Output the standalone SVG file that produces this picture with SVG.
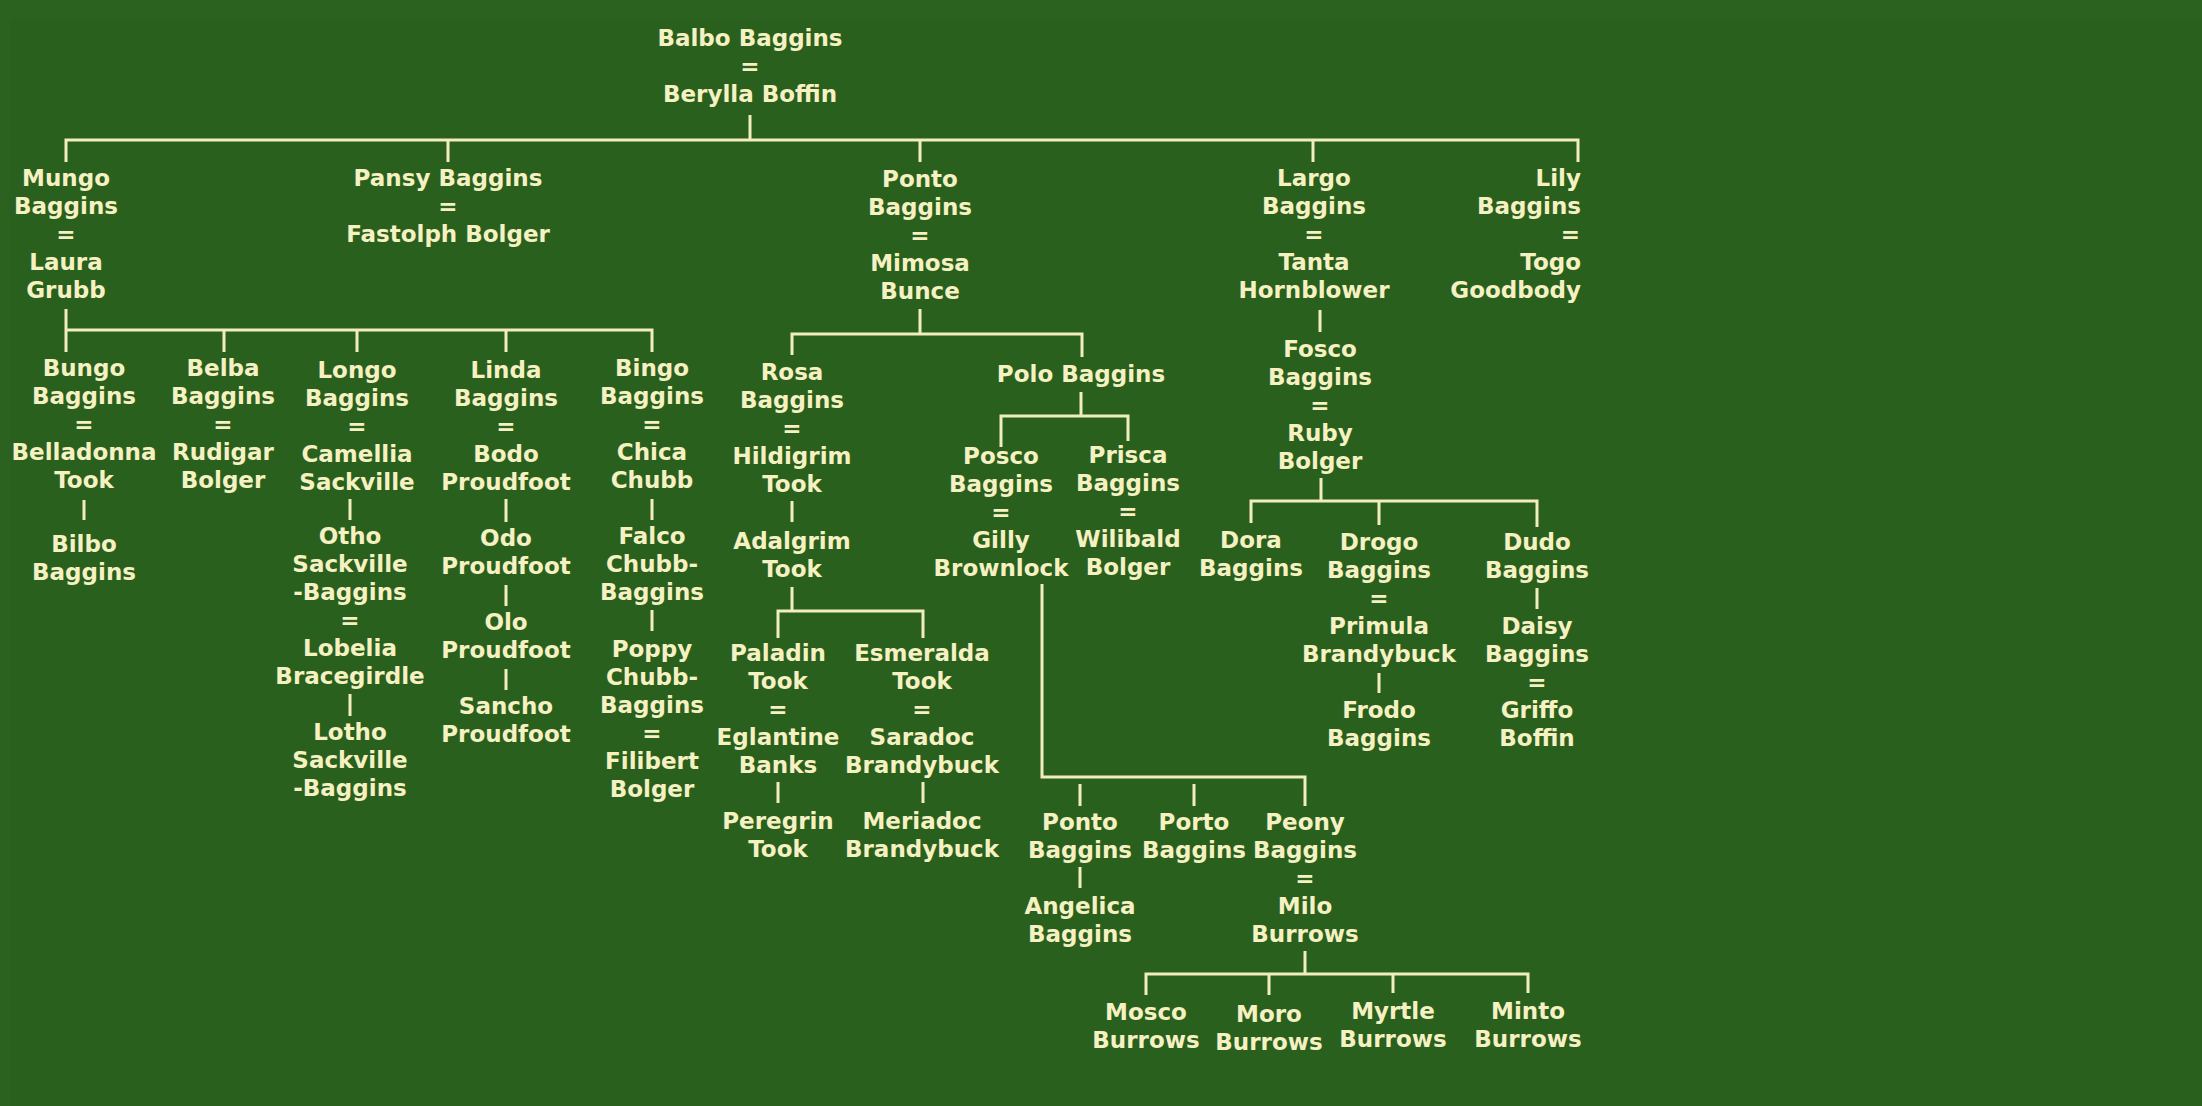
<svg xmlns="http://www.w3.org/2000/svg" width="2202" height="1106" viewBox="0 0 2202 1106">
<style>
.bg{fill:#2a601d}
.band{fill:#2b621f}
.t{font-family:"DejaVu Sans",Verdana,sans-serif;font-weight:bold;font-size:23px;fill:#f6f1c3;text-anchor:middle}
.r{text-anchor:end}
.c{stroke:#f1edbd;stroke-width:3;fill:none;stroke-linejoin:miter}
</style>
<rect class="bg" x="0" y="0" width="2202" height="1106"/>
<rect class="band" x="0" y="0" width="2202" height="20"/>
<rect class="band" x="0" y="0" width="10" height="1106"/>
<g id="connectors" class="c">
<path d="M750 115V140M66 162V140H1578V162M448 140V162M920 140V162M1313 140V162"/>
<path d="M66 309V352M66 330H652V352M224 330V352M357 330V352M506 330V352"/>
<path d="M84 500V520"/>
<path d="M350 499V520M350 694V716"/>
<path d="M506 499V522M506 585V606M506 669V690"/>
<path d="M652 499V520M652 610V631"/>
<path d="M920 309V334M792 355V334H1082V357"/>
<path d="M792 501V522M792 587V611M778 638V611H923V638"/>
<path d="M778 782V803M923 782V803"/>
<path d="M1081 392V416M1001 447V416H1128V441"/>
<path d="M1042 584V777H1305V806M1080 784V806M1194 784V806"/>
<path d="M1080 867V888"/>
<path d="M1305 951V974M1146 995V974H1528V993M1269 974V995M1393 974V993"/>
<path d="M1320 310V332M1321 478V501M1251 523V501H1537V527M1379 501V525"/>
<path d="M1379 673V693M1537 588V609"/>
</g>
<g id="n-balbo" class="t"><text x="750" y="46">Balbo Baggins</text><text x="750" y="74">=</text><text x="750" y="102">Berylla Boffin</text></g>
<g id="n-mungo" class="t"><text x="66" y="186">Mungo</text><text x="66" y="214">Baggins</text><text x="66" y="242">=</text><text x="66" y="270">Laura</text><text x="66" y="298">Grubb</text></g>
<g id="n-pansy" class="t"><text x="448" y="186">Pansy Baggins</text><text x="448" y="214">=</text><text x="448" y="242">Fastolph Bolger</text></g>
<g id="n-ponto" class="t"><text x="920" y="187">Ponto</text><text x="920" y="215">Baggins</text><text x="920" y="243">=</text><text x="920" y="271">Mimosa</text><text x="920" y="299">Bunce</text></g>
<g id="n-largo" class="t"><text x="1314" y="186">Largo</text><text x="1314" y="214">Baggins</text><text x="1314" y="242">=</text><text x="1314" y="270">Tanta</text><text x="1314" y="298">Hornblower</text></g>
<g id="n-lily" class="t r"><text x="1581" y="186">Lily</text><text x="1581" y="214">Baggins</text><text x="1580" y="242">=</text><text x="1581" y="270">Togo</text><text x="1581" y="298">Goodbody</text></g>
<g id="n-bungo" class="t"><text x="84" y="376">Bungo</text><text x="84" y="404">Baggins</text><text x="84" y="432">=</text><text x="84" y="460">Belladonna</text><text x="84" y="488">Took</text></g>
<g id="n-bilbo" class="t"><text x="84" y="552">Bilbo</text><text x="84" y="580">Baggins</text></g>
<g id="n-belba" class="t"><text x="223" y="376">Belba</text><text x="223" y="404">Baggins</text><text x="223" y="432">=</text><text x="223" y="460">Rudigar</text><text x="223" y="488">Bolger</text></g>
<g id="n-longo" class="t"><text x="357" y="378">Longo</text><text x="357" y="406">Baggins</text><text x="357" y="434">=</text><text x="357" y="462">Camellia</text><text x="357" y="490">Sackville</text></g>
<g id="n-otho" class="t"><text x="350" y="544">Otho</text><text x="350" y="572">Sackville</text><text x="350" y="600">-Baggins</text><text x="350" y="628">=</text><text x="350" y="656">Lobelia</text><text x="350" y="684">Bracegirdle</text></g>
<g id="n-lotho" class="t"><text x="350" y="740">Lotho</text><text x="350" y="768">Sackville</text><text x="350" y="796">-Baggins</text></g>
<g id="n-linda" class="t"><text x="506" y="378">Linda</text><text x="506" y="406">Baggins</text><text x="506" y="434">=</text><text x="506" y="462">Bodo</text><text x="506" y="490">Proudfoot</text></g>
<g id="n-odo" class="t"><text x="506" y="546">Odo</text><text x="506" y="574">Proudfoot</text></g>
<g id="n-olo" class="t"><text x="506" y="630">Olo</text><text x="506" y="658">Proudfoot</text></g>
<g id="n-sancho" class="t"><text x="506" y="714">Sancho</text><text x="506" y="742">Proudfoot</text></g>
<g id="n-bingo" class="t"><text x="652" y="376">Bingo</text><text x="652" y="404">Baggins</text><text x="652" y="432">=</text><text x="652" y="460">Chica</text><text x="652" y="488">Chubb</text></g>
<g id="n-falco" class="t"><text x="652" y="544">Falco</text><text x="652" y="572">Chubb-</text><text x="652" y="600">Baggins</text></g>
<g id="n-poppy" class="t"><text x="652" y="657">Poppy</text><text x="652" y="685">Chubb-</text><text x="652" y="713">Baggins</text><text x="652" y="741">=</text><text x="652" y="769">Filibert</text><text x="652" y="797">Bolger</text></g>
<g id="n-rosa" class="t"><text x="792" y="380">Rosa</text><text x="792" y="408">Baggins</text><text x="792" y="436">=</text><text x="792" y="464">Hildigrim</text><text x="792" y="492">Took</text></g>
<g id="n-adalgrim" class="t"><text x="792" y="549">Adalgrim</text><text x="792" y="577">Took</text></g>
<g id="n-paladin" class="t"><text x="778" y="661">Paladin</text><text x="778" y="689">Took</text><text x="778" y="717">=</text><text x="778" y="745">Eglantine</text><text x="778" y="773">Banks</text></g>
<g id="n-peregrin" class="t"><text x="778" y="829">Peregrin</text><text x="778" y="857">Took</text></g>
<g id="n-esmeralda" class="t"><text x="922" y="661">Esmeralda</text><text x="922" y="689">Took</text><text x="922" y="717">=</text><text x="922" y="745">Saradoc</text><text x="922" y="773">Brandybuck</text></g>
<g id="n-meriadoc" class="t"><text x="922" y="829">Meriadoc</text><text x="922" y="857">Brandybuck</text></g>
<g id="n-polo" class="t"><text x="1081" y="382">Polo Baggins</text></g>
<g id="n-posco" class="t"><text x="1001" y="464">Posco</text><text x="1001" y="492">Baggins</text><text x="1001" y="520">=</text><text x="1001" y="548">Gilly</text><text x="1001" y="576">Brownlock</text></g>
<g id="n-prisca" class="t"><text x="1128" y="463">Prisca</text><text x="1128" y="491">Baggins</text><text x="1128" y="519">=</text><text x="1128" y="547">Wilibald</text><text x="1128" y="575">Bolger</text></g>
<g id="n-ponto2" class="t"><text x="1080" y="830">Ponto</text><text x="1080" y="858">Baggins</text></g>
<g id="n-angelica" class="t"><text x="1080" y="914">Angelica</text><text x="1080" y="942">Baggins</text></g>
<g id="n-porto" class="t"><text x="1194" y="830">Porto</text><text x="1194" y="858">Baggins</text></g>
<g id="n-peony" class="t"><text x="1305" y="830">Peony</text><text x="1305" y="858">Baggins</text><text x="1305" y="886">=</text><text x="1305" y="914">Milo</text><text x="1305" y="942">Burrows</text></g>
<g id="n-mosco" class="t"><text x="1146" y="1020">Mosco</text><text x="1146" y="1048">Burrows</text></g>
<g id="n-moro" class="t"><text x="1269" y="1022">Moro</text><text x="1269" y="1050">Burrows</text></g>
<g id="n-myrtle" class="t"><text x="1393" y="1019">Myrtle</text><text x="1393" y="1047">Burrows</text></g>
<g id="n-minto" class="t"><text x="1528" y="1019">Minto</text><text x="1528" y="1047">Burrows</text></g>
<g id="n-fosco" class="t"><text x="1320" y="357">Fosco</text><text x="1320" y="385">Baggins</text><text x="1320" y="413">=</text><text x="1320" y="441">Ruby</text><text x="1320" y="469">Bolger</text></g>
<g id="n-dora" class="t"><text x="1251" y="548">Dora</text><text x="1251" y="576">Baggins</text></g>
<g id="n-drogo" class="t"><text x="1379" y="550">Drogo</text><text x="1379" y="578">Baggins</text><text x="1379" y="606">=</text><text x="1379" y="634">Primula</text><text x="1379" y="662">Brandybuck</text></g>
<g id="n-frodo" class="t"><text x="1379" y="718">Frodo</text><text x="1379" y="746">Baggins</text></g>
<g id="n-dudo" class="t"><text x="1537" y="550">Dudo</text><text x="1537" y="578">Baggins</text></g>
<g id="n-daisy" class="t"><text x="1537" y="634">Daisy</text><text x="1537" y="662">Baggins</text><text x="1537" y="690">=</text><text x="1537" y="718">Griffo</text><text x="1537" y="746">Boffin</text></g>
</svg>
